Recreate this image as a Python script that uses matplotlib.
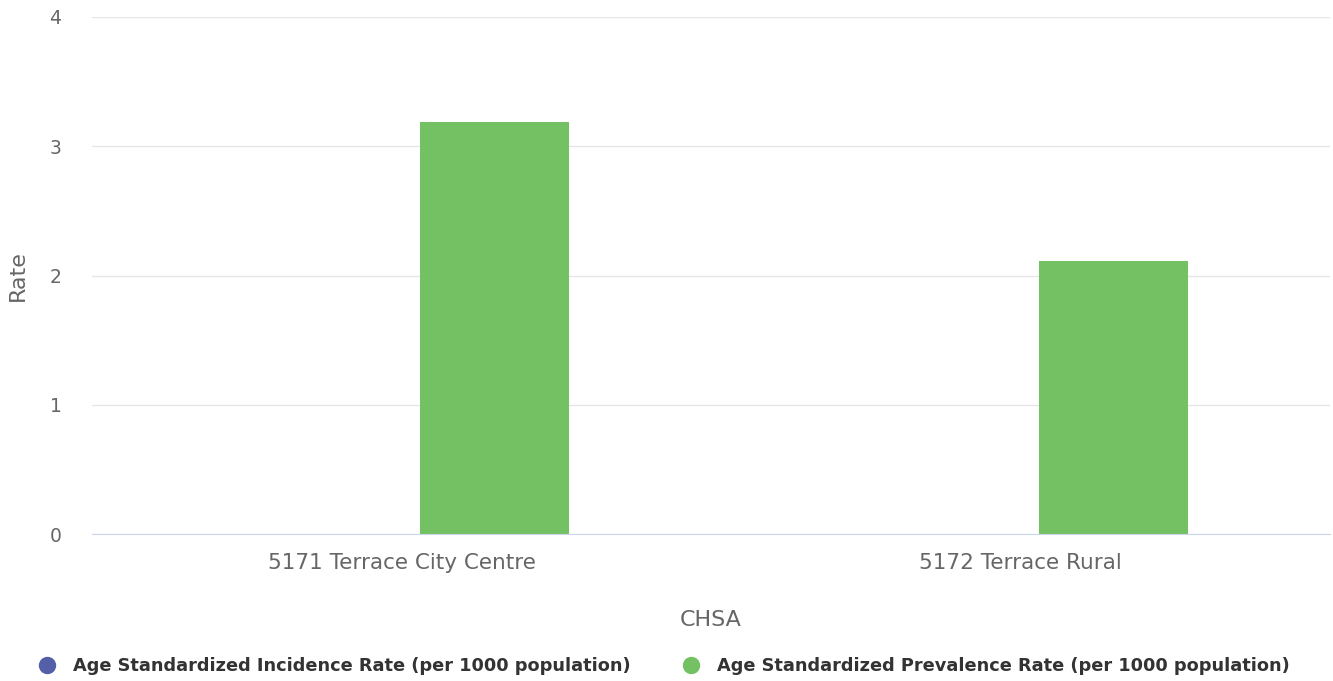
import matplotlib
matplotlib.use("Agg")
import matplotlib.pyplot as plt
import numpy as np
from matplotlib.lines import Line2D

categories = ["5171 Terrace City Centre", "5172 Terrace Rural"]
series_names = ["Age Standardized Incidence Rate (per 1000 population)",
                "Age Standardized Prevalence Rate (per 1000 population)"]
incidence = [0, 0]
prevalence = [3.19, 2.11]
colors = ["#5360a7", "#74c163"]
yticks = [0, 1, 2, 3, 4]

plt.rcParams['font.family'] = ['DejaVu Sans']
fig = plt.figure(figsize=(13.33, 6.81), dpi=100)
ax = fig.add_axes([92/1333, 147/681, (1330-92)/1333, (534-17)/681])

x = np.arange(len(categories))
w = 0.24
ax.bar(x - 0.15, incidence, width=w, color=colors[0], zorder=3)
ax.bar(x + 0.15, prevalence, width=w, color=colors[1], zorder=3)

ax.set_xlim(-0.5, len(categories) - 0.5)
ax.set_ylim(0, 4)
ax.set_yticks(yticks)
ax.set_yticklabels([str(t) for t in yticks])
ax.set_xticks(x)
ax.set_xticklabels(categories)
ax.grid(axis='y', color='#e6e6e6', linewidth=1, zorder=0)
for s in ['top', 'right', 'left']:
    ax.spines[s].set_visible(False)
ax.spines['bottom'].set_color('#ccd6eb')
ax.spines['bottom'].set_zorder(4)
ax.tick_params(axis='both', length=0, colors='#666666')
ax.tick_params(axis='x', pad=14, labelsize=15.5)
ax.tick_params(axis='y', pad=22, labelsize=13.5)
for lab in ax.get_xticklabels() + ax.get_yticklabels():
    lab.set_color('#666666')

fig.text(18/1333, 1 - 276/681, "Rate", rotation=90, ha='center', va='center',
         fontsize=16, color='#666666')
fig.text(711/1333, 1 - 620/681, "CHSA", ha='center', va='center',
         fontsize=16, color='#666666')

handles = [Line2D([0], [0], marker='o', linestyle='none', markersize=11.5,
                  markerfacecolor=c, markeredgecolor=c) for c in colors]
leg = fig.legend(handles, series_names, loc='center', ncol=2,
                 bbox_to_anchor=(664/1333, 1 - 666/681), frameon=False,
                 prop={'size': 12.8, 'weight': 'bold'},
                 handletextpad=0.95, columnspacing=2.9,
                 handlelength=1.0)
for t in leg.get_texts():
    t.set_color('#333333')

fig.savefig("out.png", dpi=100)
